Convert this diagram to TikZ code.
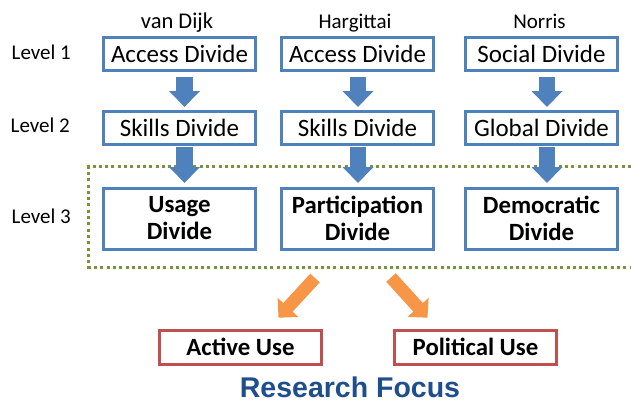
\documentclass[tikz,border=0pt]{standalone}
\usepackage{fontspec}
\setmainfont{Carlito}
\newfontfamily\focusfont{Liberation Sans}
\usetikzlibrary{arrows.meta}
\definecolor{boxblue}{HTML}{4F81BD}
\definecolor{boxred}{HTML}{C0504D}
\definecolor{arroworange}{HTML}{F79646}
\definecolor{dotgreen}{HTML}{77933C}
\definecolor{focusblue}{HTML}{1F4E8C}

\begin{document}
\begin{tikzpicture}[x=1pt,y=-1pt,
  divbox/.style={draw=boxblue, line width=3pt, minimum width=152pt,
    minimum height=33pt, inner sep=0pt, text height=16pt, text depth=0pt,
    font=\fontsize{25}{27}\selectfont},
  tallbox/.style={draw=boxblue, line width=3pt, minimum width=152pt,
    minimum height=61pt, inner sep=0pt, align=center,
    font=\fontsize{24.8}{27}\selectfont\bfseries},
  usebox/.style={draw=boxred, line width=3pt, minimum width=162pt,
    minimum height=34pt, inner sep=0pt, text height=16pt, text depth=0pt,
    font=\fontsize{24.8}{27}\selectfont\bfseries},
  lbl/.style={font=\fontsize{21}{25}\selectfont, inner sep=0pt},
  downarrow/.style={draw=boxblue, line width=16.5pt,
    -{Triangle[width=30pt,length=16pt]}},
  focusarrow/.style={draw=arroworange, line width=12.8pt,
    -{Triangle[width=27.6pt,length=14pt]}},
  levelframe/.style={draw=dotgreen, line width=3pt, dash pattern=on 3pt off 3.3pt},
]
\useasboundingbox (0,0) rectangle (631,402);

% column headers
\node[lbl, anchor=base, font=\fontsize{22.5}{25}\selectfont] (h1) at (177,28.3) {van Dijk};
\node[lbl, anchor=base] (h2) at (355,28.3) {Hargittai};
\node[lbl, anchor=base] (h3) at (539.5,28.3) {Norris};

% level labels
\node[lbl, anchor=base west] (l1) at (11.5,59.3) {Level 1};
\node[lbl, anchor=base west] (l2) at (10.5,132.7) {Level 2};
\node[lbl, anchor=base west] (l3) at (11.5,223.3) {Level 3};

% level 3 frame, open to the right
\draw[levelframe] (631,166) -- (88.8,166) -- (88.8,267.5) -- (631,267.5);

% level 1
\node[divbox] (a1) at (179.5,54) {Access Divide};
\node[divbox] (a2) at (357.5,54) {Access Divide};
\node[divbox] (a3) at (541.5,54) {Social Divide};

% level 2
\node[divbox] (b1) at (179.5,128) {Skills Divide};
\node[divbox] (b2) at (357.5,128) {Skills Divide};
\node[divbox] (b3) at (541.5,128) {Global Divide};

% level 3
\node[tallbox] (c1) at (179.5,218.5) {Usage\\Divide};
\node[tallbox] (c2) at (357.5,218.5) {Participation\\Divide};
\node[tallbox] (c3) at (541.5,218.5) {Democratic\\Divide};

% level 1 to level 2
\draw[downarrow] ([xshift=5pt,yshift=-5pt]a1.south) -- ([xshift=5pt,yshift=3pt]b1.north);
\draw[downarrow] ([xshift=0.5pt,yshift=-5pt]a2.south) -- ([xshift=0.5pt,yshift=3pt]b2.north);
\draw[downarrow] ([xshift=5.5pt,yshift=-5pt]a3.south) -- ([xshift=5.5pt,yshift=3pt]b3.north);

% level 2 to level 3
\draw[downarrow] ([xshift=5pt,yshift=-1pt]b1.south) -- ([xshift=5pt,yshift=3.5pt]c1.north);
\draw[downarrow] ([xshift=0.5pt,yshift=-1pt]b2.south) -- ([xshift=0.5pt,yshift=3.5pt]c2.north);
\draw[downarrow] ([xshift=5.5pt,yshift=-1pt]b3.south) -- ([xshift=5.5pt,yshift=3.5pt]c3.north);

% research focus
\node[usebox] (u1) at (240.5,347.5) {Active Use};
\node[usebox] (u2) at (475.5,347.5) {Political Use};
\node[inner sep=0pt, anchor=base, text=focusblue,
  font=\focusfont\fontsize{28.5}{30}\selectfont\bfseries] (rf) at (350,397) {Research Focus};

\coordinate (s1) at (315,278);
\coordinate (s2) at (391,277.5);
\draw[focusarrow] (s1) -- ([xshift=38pt,yshift=11.3pt]u1.north);
\draw[focusarrow] (s2) -- ([xshift=-48pt,yshift=11.3pt]u2.north);
\end{tikzpicture}
\end{document}
